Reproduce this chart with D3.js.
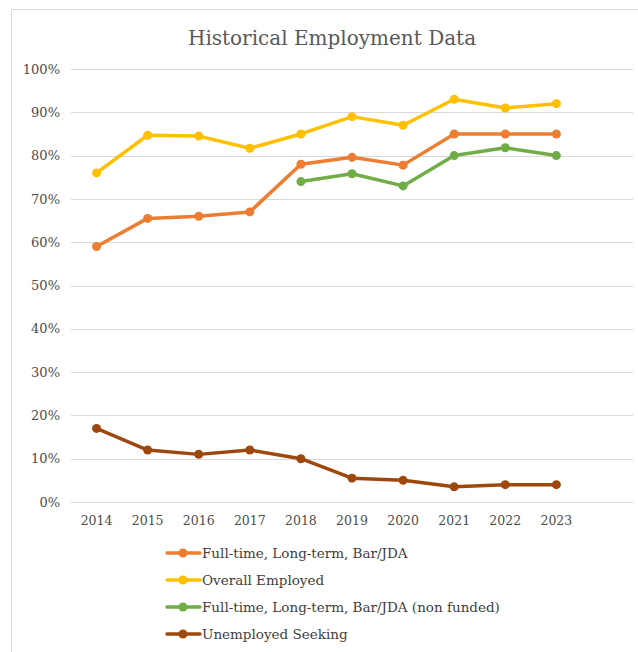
<!DOCTYPE html>
<html>
<head>
<meta charset="utf-8">
<script src="https://cdn.jsdelivr.net/npm/d3@7"></script>
<style>
  html, body { margin: 0; padding: 0; background: #fff; }
  svg { display: block; }
</style>
</head>
<body>
<svg id="chart" width="638" height="652"></svg>
<script>
const years = ["2014","2015","2016","2017","2018","2019","2020","2021","2022","2023"];
const fullTime = [59, 65.5, 66, 67, 78, 79.6, 77.8, 85, 85, 85];
const overall = [76, 84.7, 84.5, 81.7, 85, 89, 87, 93, 91, 92];
const nonFunded = [null, null, null, null, 74, 75.8, 73, 80, 81.8, 80];
const unemployed = [17, 12, 11, 12, 10, 5.5, 5, 3.5, 4, 4];
const yTicks = [0, 10, 20, 30, 40, 50, 60, 70, 80, 90, 100];

const seriesList = [
  { name: "Full-time, Long-term, Bar/JDA", values: fullTime, color: "#ED7D31" },
  { name: "Overall Employed", values: overall, color: "#FFC000" },
  { name: "Full-time, Long-term, Bar/JDA (non funded)", values: nonFunded, color: "#70AD47" },
  { name: "Unemployed Seeking", values: unemployed, color: "#9E480E" }
];

const FONT = "'DejaVu Serif', 'Liberation Serif', serif";
const svg = d3.select("#chart");

// chart area border
svg.append("rect").attr("x", 11.5).attr("y", 9.5).attr("width", 700).attr("height", 700)
  .attr("fill", "none").attr("stroke", "#d9d9d9").attr("stroke-width", 1);

const plotLeft = 71, plotRight = 633, plotTop = 69, plotBottom = 502;
const slots = years.concat([""]);
const x = d3.scaleBand().domain(slots).range([plotLeft, plotRight]);
const y = d3.scaleLinear().domain([0, 100]).range([plotBottom, plotTop]);

// title
svg.append("text").attr("x", 332).attr("y", 45).attr("text-anchor", "middle")
  .style("font-family", FONT).style("font-size", "20px")
  .attr("fill", "#595959").text("Historical Employment Data");

// gridlines
svg.append("g").selectAll("line").data(yTicks).join("line")
  .attr("x1", plotLeft).attr("x2", plotRight)
  .attr("y1", d => Math.round(y(d)) + 0.5).attr("y2", d => Math.round(y(d)) + 0.5)
  .attr("stroke", "#d9d9d9").attr("stroke-width", 1);

// y axis labels
const yAxis = d3.axisLeft(y).tickValues(yTicks).tickFormat(d => d + "%").tickSize(0).tickPadding(11);
const gy = svg.append("g").attr("transform", `translate(${plotLeft},0)`).call(yAxis);
gy.select(".domain").remove();
gy.selectAll("text").style("font-family", FONT).style("font-size", "13px").attr("fill", "#4d4d4d");

// x axis labels
const xAxis = d3.axisBottom(x).tickValues(years).tickSize(0).tickPadding(14);
const gx = svg.append("g").attr("transform", `translate(0,${plotBottom})`).call(xAxis);
gx.select(".domain").remove();
gx.selectAll("text").style("font-family", FONT).style("font-size", "12.5px").attr("fill", "#4d4d4d");

const cx = (i) => x(years[i]) + x.bandwidth() / 2;
const line = d3.line().defined(d => d.v != null).x(d => cx(d.i)).y(d => y(d.v));

seriesList.forEach(s => {
  const pts = s.values.map((v, i) => ({ v, i }));
  svg.append("path").datum(pts).attr("d", line)
    .attr("fill", "none").attr("stroke", s.color).attr("stroke-width", 3.5)
    .attr("stroke-linejoin", "round").attr("stroke-linecap", "round");
  svg.append("g").selectAll("circle").data(pts.filter(d => d.v != null)).join("circle")
    .attr("cx", d => cx(d.i)).attr("cy", d => y(d.v)).attr("r", 4.5)
    .attr("fill", s.color);
});

// legend
const leg = svg.append("g");
seriesList.forEach((s, k) => {
  const ly = 553 + k * 27;
  leg.append("line").attr("x1", 167).attr("x2", 200).attr("y1", ly).attr("y2", ly)
    .attr("stroke", s.color).attr("stroke-width", 3.5).attr("stroke-linecap", "round");
  leg.append("circle").attr("cx", 183).attr("cy", ly).attr("r", 4.5).attr("fill", s.color);
  leg.append("text").attr("x", 202).attr("y", ly + 5)
    .style("font-family", FONT).style("font-size", "13.5px")
    .attr("fill", "#404040").text(s.name);
});
</script>
</body>
</html>
